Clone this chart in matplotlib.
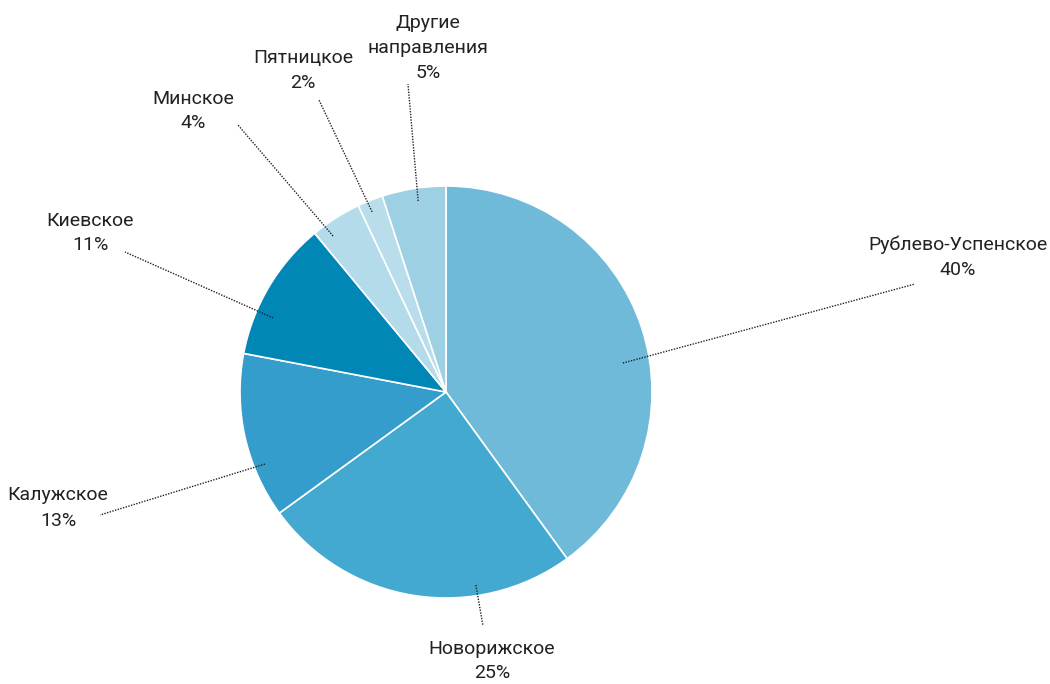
import matplotlib
matplotlib.use("Agg")
import matplotlib.pyplot as plt
import numpy as np

# Share of directions
labels = ["Рублево-Успенское", "Новорижское", "Калужское", "Киевское",
          "Минское", "Пятницкое", "Другие\nнаправления"]
shares = [40, 25, 13, 11, 4, 2, 5]
colors = ["#6fb9d9", "#43a9d0", "#349dcb", "#0087b6",
          "#b4dbea", "#b9ddeb", "#9ed0e3"]

# Leader line start (angle deg clockwise from top, fraction of radius),
# label centre and line end in pixel space
leader_start = [(80.7, 0.87), (171.2, 0.948), (248.3, 0.946), (293.2, 0.913),
                (324.1, 0.935), (337.7, 0.945), (351.7, 0.937)]
label_xy = [(958, 257), (492, 661), (58, 508), (90, 233),
            (193, 111), (303, 71), (428, 48)]
line_end = [(915, 284), (483, 626), (100, 515), (125, 252),
            (238, 125), (319, 100), (408, 84)]

W, H = 1050, 684
fig = plt.figure(figsize=(W / 100, H / 100), dpi=100)
ax = fig.add_axes([0, 0, 1, 1])

cx, cy, R = 446, 392, 206

ax.pie(shares, colors=colors, startangle=90, counterclock=False,
       center=(cx, H - cy), radius=R, frame=True,
       wedgeprops=dict(edgecolor="white", linewidth=1.2))
ax.set_xlim(0, W)
ax.set_ylim(0, H)
ax.set_aspect("auto")
ax.axis("off")

font = ["Roboto", "DejaVu Sans"]
for lab, share, (ang, fr), (lx, ly), (ex, ey) in zip(labels, shares, leader_start,
                                                     label_xy, line_end):
    a = np.deg2rad(ang)
    sx = cx + fr * R * np.sin(a)
    sy = cy - fr * R * np.cos(a)
    ax.plot([sx, ex], [H - sy, H - ey], color="#222222", lw=1.0,
            linestyle=(0, (1, 1)), solid_capstyle="butt")
    ax.text(lx, H - ly, f"{lab}\n{share}%", ha="center", va="center",
            fontsize=14, family=font, color="#222222", linespacing=1.5)

fig.savefig("out.png", dpi=100, facecolor="white")
